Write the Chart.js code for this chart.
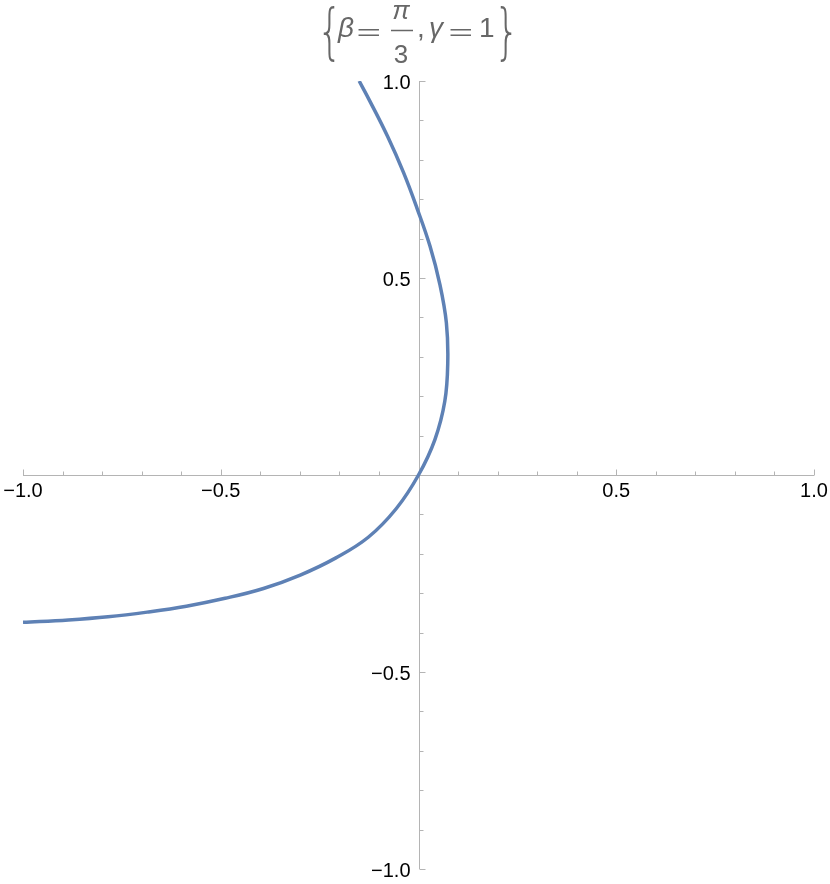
<!DOCTYPE html>
<html>
<head>
<meta charset="utf-8">
<script src="https://cdn.jsdelivr.net/npm/chart.js@4.4.0/dist/chart.umd.min.js"></script>
<style>
  body { margin: 0; background: #fff; }
  #wrap { width: 830px; height: 884px; }
</style>
</head>
<body>
<div id="wrap"><canvas id="myChart" width="830" height="884"></canvas></div>
<script>
// curve, in order from the top end to the left end
var curveX = [-0.150, -0.123, -0.078, -0.038, -0.003, 0.029, 0.054, 0.0705, 0.074, 0.0665, 0.0415, 0.0,
  -0.056, -0.127, -0.210, -0.299, -0.392, -0.489, -0.587, -0.686, -0.785, -0.885, -1.000];
var curveY = [1.000, 0.949, 0.859, 0.768, 0.675, 0.581, 0.484, 0.386, 0.286, 0.187, 0.090, 0.0,
  -0.085, -0.158, -0.211, -0.254, -0.288, -0.313, -0.333, -0.348, -0.360, -0.368, -0.374];

var xTickValues = [-1, -0.5, 0.5, 1];
var xTickLabels = ['\u22121.0', '\u22120.5', '0.5', '1.0'];
var yTickValues = [1, 0.5, -0.5, -1];
var yTickLabels = ['1.0', '0.5', '\u22120.5', '\u22121.0'];

var points = curveX.map(function (x, i) { return { x: x, y: curveY[i] }; });

var axisColor = '#b4b4b4';
var labelFont = '20px "Liberation Sans", Arial, sans-serif';

// axes through the origin, Mathematica style
var axesPlugin = {
  id: 'axes',
  beforeDatasetsDraw: function (chart) {
    var ctx = chart.ctx;
    var xs = chart.scales.x, ys = chart.scales.y;
    var x0 = Math.round(xs.getPixelForValue(0)) + 0.5;
    var y0 = Math.round(ys.getPixelForValue(0)) + 0.5;
    ctx.save();
    ctx.strokeStyle = axisColor;
    ctx.lineWidth = 1;
    ctx.beginPath();
    ctx.moveTo(xs.getPixelForValue(-1), y0);
    ctx.lineTo(xs.getPixelForValue(1), y0);
    ctx.moveTo(x0, ys.getPixelForValue(1));
    ctx.lineTo(x0, ys.getPixelForValue(-1));
    for (var i = -10; i <= 10; i++) {
      if (i === 0) continue;
      var len = (i % 5 === 0) ? 6 : 4;
      var px = Math.round(xs.getPixelForValue(i / 10)) + 0.5;
      ctx.moveTo(px, y0);
      ctx.lineTo(px, y0 - len);
      var py = Math.round(ys.getPixelForValue(i / 10)) + 0.5;
      ctx.moveTo(x0, py);
      ctx.lineTo(x0 + len, py);
    }
    ctx.stroke();

    ctx.fillStyle = '#000';
    ctx.font = labelFont;
    ctx.textAlign = 'center';
    ctx.textBaseline = 'alphabetic';
    xTickValues.forEach(function (v, i) {
      ctx.fillText(xTickLabels[i], xs.getPixelForValue(v), y0 + 21);
    });
    ctx.textAlign = 'right';
    ctx.textBaseline = 'middle';
    yTickValues.forEach(function (v, i) {
      ctx.fillText(yTickLabels[i], x0 - 9, ys.getPixelForValue(v) + 2);
    });
    ctx.restore();
  }
};

// draw a piece of text stretched into a box
function fitText(ctx, txt, font, left, top, right, bottom) {
  ctx.save();
  ctx.font = font;
  var m = ctx.measureText(txt);
  var w = m.actualBoundingBoxLeft + m.actualBoundingBoxRight;
  var h = m.actualBoundingBoxAscent + m.actualBoundingBoxDescent;
  ctx.translate(left, top);
  ctx.scale((right - left) / w, (bottom - top) / h);
  ctx.textAlign = 'left';
  ctx.textBaseline = 'alphabetic';
  ctx.fillText(txt, m.actualBoundingBoxLeft, m.actualBoundingBoxAscent);
  ctx.restore();
}

var braceFont = '200 40px "DejaVu Sans", sans-serif';
var mathFont = '28px "Liberation Sans", Arial, sans-serif';
var greekFont = 'italic 28px "Liberation Sans", Arial, sans-serif';

var titlePlugin = {
  id: 'mathTitle',
  afterDraw: function (chart) {
    var ctx = chart.ctx;
    ctx.save();
    ctx.fillStyle = '#676767';
    ctx.strokeStyle = '#676767';
    fitText(ctx, '{', braceFont, 323, 5, 335, 62);
    ctx.textBaseline = 'alphabetic';
    ctx.textAlign = 'left';
    ctx.font = greekFont;
    ctx.fillText('\u03b2', 338, 37);
    fitText(ctx, '=', mathFont, 358, 29, 379, 36);
    ctx.textAlign = 'center';
    ctx.font = 'italic 26px "Liberation Sans", Arial, sans-serif';
    ctx.fillText('\u03c0', 401, 19);
    ctx.font = '26px "Liberation Sans", Arial, sans-serif';
    ctx.fillText('3', 401, 63);
    ctx.lineWidth = 1.5;
    ctx.beginPath();
    ctx.moveTo(391, 30.5);
    ctx.lineTo(413, 30.5);
    ctx.stroke();
    ctx.textAlign = 'left';
    ctx.font = mathFont;
    ctx.fillText(',', 417, 37);
    ctx.font = greekFont;
    ctx.fillText('\u03b3', 429, 37);
    fitText(ctx, '=', mathFont, 450, 29, 471, 36);
    ctx.font = mathFont;
    ctx.fillText('1', 479, 37);
    fitText(ctx, '}', braceFont, 500, 5, 512, 62);
    ctx.restore();
  }
};

var chart = new Chart(document.getElementById('myChart'), {
  type: 'scatter',
  data: {
    datasets: [{
      data: points,
      showLine: true,
      borderColor: '#5e81b5',
      borderWidth: 3.5,
      pointRadius: 0,
      tension: 0.4,
      fill: false
    }]
  },
  options: {
    responsive: false,
    animation: false,
    layout: { padding: { left: 23, right: 16, top: 81, bottom: 15 } },
    plugins: { legend: { display: false }, tooltip: { enabled: false } },
    scales: {
      x: { type: 'linear', min: -1, max: 1, display: false },
      y: { type: 'linear', min: -1, max: 1, display: false }
    }
  },
  plugins: [axesPlugin, titlePlugin]
});
</script>
</body>
</html>
